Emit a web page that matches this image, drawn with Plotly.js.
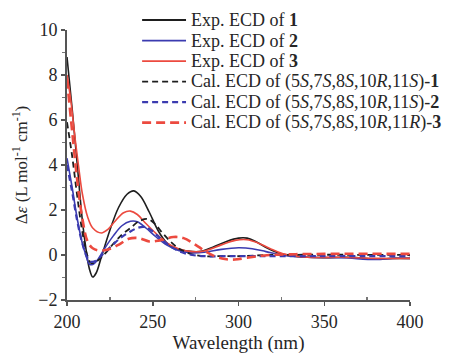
<!DOCTYPE html>
<html><head><meta charset="utf-8">
<script src="https://cdn.plot.ly/plotly-3.0.1.min.js"></script>
<style>html,body{margin:0;padding:0;background:#fff;}#chart{width:456px;height:354px;}</style>
</head><body><div id="chart"></div>
<script>
const exp1X = [200,203,206,209,211,213,215,217,220,225,230,235,239,243,248,253,258,263,270,277,285,293,300,305,310,317,325,335,350,365,380,390,400];
const exp1Y = [8.8,6.5,4.0,1.5,0.3,-0.6,-0.98,-0.8,-0.1,1.1,2.1,2.7,2.85,2.6,1.9,1.1,0.55,0.3,0.18,0.15,0.35,0.6,0.75,0.75,0.6,0.3,0.05,-0.08,-0.12,-0.1,-0.18,-0.15,-0.15];

const exp2X = [200,203,206,209,211,213,215,218,222,227,232,237,241,246,252,258,265,272,280,290,300,308,316,325,340,360,380,390,400];
const exp2Y = [4.3,3.0,1.6,0.5,0.0,-0.4,-0.42,-0.2,0.3,0.85,1.3,1.5,1.48,1.2,0.8,0.45,0.2,0.1,0.12,0.25,0.32,0.28,0.15,0.0,-0.1,-0.12,-0.2,-0.15,-0.15];

const exp3X = [200,202,205,207,209,212,215,220,224,228,233,237,241,246,252,258,265,273,280,290,298,305,311,318,326,340,360,380,400];
const exp3Y = [8.0,7.0,5.0,3.8,2.7,1.7,1.2,0.98,1.15,1.5,1.88,1.95,1.8,1.4,0.95,0.55,0.28,0.15,0.18,0.45,0.65,0.68,0.55,0.3,0.05,-0.1,-0.1,-0.15,-0.15];

const cal1X = [200,203,206,209,212,214,217,222,227,232,237,242,247,251,256,261,266,272,280,290,300,320,400];
const cal1Y = [5.9,4.4,2.6,1.0,-0.05,-0.35,-0.3,0.05,0.5,0.9,1.2,1.5,1.6,1.4,0.95,0.55,0.25,0.05,-0.05,-0.05,-0.05,0.0,0.0];

const cal2X = [200,203,206,209,212,214,217,221,226,231,236,241,245,250,255,261,267,273,280,300,350,400];
const cal2Y = [4.0,2.8,1.5,0.5,-0.15,-0.3,-0.25,0.05,0.4,0.75,1.0,1.2,1.25,1.05,0.7,0.35,0.12,0.0,-0.05,-0.05,-0.05,-0.05];

const cal3X = [200,203,206,209,212,215,219,224,230,236,242,248,254,262,268,275,280,286,292,298,305,315,330,350,400];
const cal3Y = [7.8,5.5,3.3,1.6,0.6,0.3,0.2,0.25,0.45,0.72,0.75,0.6,0.65,0.8,0.75,0.45,0.2,-0.05,-0.18,-0.2,-0.12,-0.02,0.03,0.05,0.05];

const names = [
  'Exp. ECD of <b>1</b>',
  'Exp. ECD of <b>2</b>',
  'Exp. ECD of <b>3</b>',
  'Cal. ECD of (5<i>S</i>,7<i>S</i>,8<i>S</i>,10<i>R</i>,11<i>S</i>)-<b>1</b>',
  'Cal. ECD of (5<i>S</i>,7<i>S</i>,8<i>S</i>,10<i>R</i>,11<i>S</i>)-<b>2</b>',
  'Cal. ECD of (5<i>S</i>,7<i>S</i>,8<i>S</i>,10<i>R</i>,11<i>R</i>)-<b>3</b>'
];

const black = '#1e1e1e', blue = '#3b3bb0', red = '#ec4a3f';
const styles = [
  {color: black, dash: 'solid', width: 1.6},
  {color: blue, dash: 'solid', width: 1.6},
  {color: red, dash: 'solid', width: 1.6},
  {color: black, dash: '6px,4px', width: 1.8},
  {color: blue, dash: '6px,4px', width: 2.2},
  {color: red, dash: '9px,5px', width: 2.6}
];
const xs = [exp1X, exp2X, exp3X, cal1X, cal2X, cal3X];
const ys = [exp1Y, exp2Y, exp3Y, cal1Y, cal2Y, cal3Y];

const data = xs.map((x, i) => ({x: x, y: ys[i], name: names[i], type: 'scatter', mode: 'lines',
  showlegend: false,
  line: {color: styles[i].color, dash: styles[i].dash, width: styles[i].width, shape: 'spline', smoothing: 1}}));

const fam = '"Liberation Serif", "Times New Roman", serif';
const txt = '#262626';

// custom legend (paper coordinates)
const legY = [1.037, 0.961, 0.885, 0.809, 0.733, 0.657];
const shapes = [], annotations = [];
names.forEach((n, i) => {
  shapes.push({type: 'line', xref: 'paper', yref: 'paper', x0: 0.219, x1: 0.347, y0: legY[i], y1: legY[i],
    line: {color: styles[i].color, dash: styles[i].dash, width: Math.max(1.8, styles[i].width)}});
  annotations.push({xref: 'paper', yref: 'paper', x: 0.356, y: legY[i], xanchor: 'left', yanchor: 'middle',
    text: n, showarrow: false, font: {family: fam, size: 18, color: txt}});
});

const layout = {
  width: 456, height: 354,
  margin: {l: 67, r: 46, t: 30, b: 54},
  paper_bgcolor: '#fff', plot_bgcolor: '#fff',
  font: {family: fam, size: 17, color: txt},
  showlegend: false,
  shapes: shapes, annotations: annotations,
  xaxis: {range: [200, 400], tickvals: [200, 250, 300, 350, 400], showgrid: false, zeroline: false,
    showline: true, linecolor: '#555', linewidth: 2, ticks: 'outside', ticklen: 4, tickcolor: '#555', tickwidth: 1.5,
    minor: {tickvals: [225, 275, 325, 375], ticks: 'inside', ticklen: 3, tickcolor: '#777'},
    tickfont: {family: fam, size: 18, color: txt},
    title: {text: 'Wavelength (nm)', font: {family: fam, size: 19, color: txt}, standoff: 8}},
  yaxis: {range: [-2, 10], tickvals: [-2, 0, 2, 4, 6, 8, 10], showgrid: false, zeroline: false,
    showline: true, linecolor: '#555', linewidth: 2, ticks: 'outside', ticklen: 4, tickcolor: '#555', tickwidth: 1.5,
    minor: {tickvals: [-1, 1, 3, 5, 7, 9], ticks: 'outside', ticklen: 3, tickcolor: '#777'},
    tickfont: {family: fam, size: 18, color: txt},
    title: {text: 'Δ<i>ε</i> (L mol<sup>-1</sup> cm<sup>-1</sup>)', font: {family: fam, size: 17, color: txt}, standoff: 6}}
};
Plotly.newPlot('chart', data, layout, {displayModeBar: false, staticPlot: true});
</script></body></html>
